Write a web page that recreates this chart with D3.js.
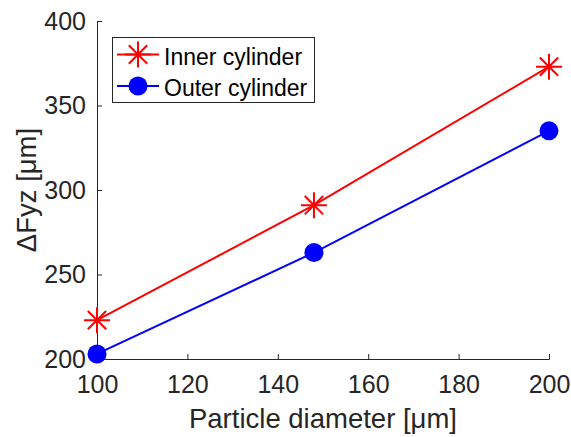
<!DOCTYPE html>
<html>
<head>
<meta charset="utf-8">
<script src="https://cdn.jsdelivr.net/npm/d3@7"></script>
<style>
	body { margin: 0; background: #fff; }
	text { font-family: "Liberation Sans", Arial, sans-serif; }
</style>
</head>
<body>
<svg id="chart" width="571" height="437"></svg>
<script>
// Data
var diameters = [100, 148, 200];
var innerVals = [223, 291, 373];
var outerVals = [203, 263, 335];
var seriesNames = ['Inner cylinder', 'Outer cylinder'];
var xTicks = [100, 120, 140, 160, 180, 200];
var yTicks = [200, 250, 300, 350, 400];

var svg = d3.select('#chart');
var m = { left: 97, right: 549, top: 21, bottom: 359 };

var x = d3.scaleLinear().domain([100, 200]).range([m.left, m.right]);
var y = d3.scaleLinear().domain([200, 400]).range([m.bottom, m.top]);

var axisCol = '#262626';

// Axes (ticks inward, box off)
var xAxis = svg.append('g')
	.attr('transform', `translate(0,${m.bottom})`)
	.call(d3.axisBottom(x).tickValues(xTicks).tickSizeInner(-5).tickSizeOuter(-5).tickPadding(16));
var yAxis = svg.append('g')
	.attr('transform', `translate(${m.left},0)`)
	.call(d3.axisLeft(y).tickValues(yTicks).tickSizeInner(-5).tickSizeOuter(-5).tickPadding(11));

[xAxis, yAxis].forEach(a => {
	a.select('.domain').attr('stroke', axisCol).attr('stroke-width', 1);
	a.selectAll('.tick line').attr('stroke', axisCol);
	a.selectAll('.tick text')
		.attr('fill', axisCol)
		.style('font-size', '25px')
		.style('font-family', '"Liberation Sans", Arial, sans-serif');
});

// Axis labels
svg.append('text')
	.attr('x', (m.left + m.right) / 2)
	.attr('y', 428)
	.attr('text-anchor', 'middle')
	.attr('fill', axisCol)
	.style('font-size', '27.5px')
	.text('Particle diameter [μm]');

svg.append('text')
	.attr('transform', `translate(36,${(m.top + m.bottom) / 2}) rotate(-90)`)
	.attr('text-anchor', 'middle')
	.attr('fill', axisCol)
	.style('font-size', '27.5px')
	.text('ΔFyz [μm]');

var line = d3.line()
	.x(d => x(d[0]))
	.y(d => y(d[1]));

function asterisk(g, cx, cy, r, col) {
	var d = '';
	[0, 45, 90, 135].forEach(a => {
		var rad = a * Math.PI / 180;
		var dx = Math.cos(rad) * r, dy = Math.sin(rad) * r;
		d += `M${cx - dx},${cy - dy}L${cx + dx},${cy + dy}`;
	});
	g.append('path').attr('d', d).attr('stroke', col).attr('stroke-width', 2).attr('fill', 'none');
}

// Inner cylinder series
var innerData = diameters.map((d, i) => [d, innerVals[i]]);
var gInner = svg.append('g');
gInner.append('path')
	.datum(innerData)
	.attr('d', line)
	.attr('fill', 'none')
	.attr('stroke', '#ff0000')
	.attr('stroke-width', 2);
innerData.forEach(d => asterisk(gInner, x(d[0]), y(d[1]), 13, '#ff0000'));

// Outer cylinder series
var outerData = diameters.map((d, i) => [d, outerVals[i]]);
var gOuter = svg.append('g');
gOuter.append('path')
	.datum(outerData)
	.attr('d', line)
	.attr('fill', 'none')
	.attr('stroke', '#0000ff')
	.attr('stroke-width', 2);
gOuter.selectAll('circle')
	.data(outerData)
	.enter()
	.append('circle')
	.attr('cx', d => x(d[0]))
	.attr('cy', d => y(d[1]))
	.attr('r', 9.5)
	.attr('fill', '#0000ff');

// Legend
var leg = svg.append('g');
leg.append('rect')
	.attr('x', 112.5).attr('y', 37.5)
	.attr('width', 202).attr('height', 65)
	.attr('fill', '#fff')
	.attr('stroke', axisCol)
	.attr('stroke-width', 1);

var legY = [54.5, 86];
var legCols = ['#ff0000', '#0000ff'];
seriesNames.forEach((name, i) => {
	leg.append('line')
		.attr('x1', 117).attr('x2', 159)
		.attr('y1', legY[i]).attr('y2', legY[i])
		.attr('stroke', legCols[i]).attr('stroke-width', 2);
	if (i === 0) asterisk(leg, 138, legY[i], 13, legCols[i]);
	else leg.append('circle').attr('cx', 138).attr('cy', legY[i]).attr('r', 9.5).attr('fill', legCols[i]);
	leg.append('text')
		.attr('x', 164)
		.attr('y', legY[i] + 10)
		.attr('fill', '#000')
		.style('font-size', '23px')
		.text(name);
});
</script>
</body>
</html>
